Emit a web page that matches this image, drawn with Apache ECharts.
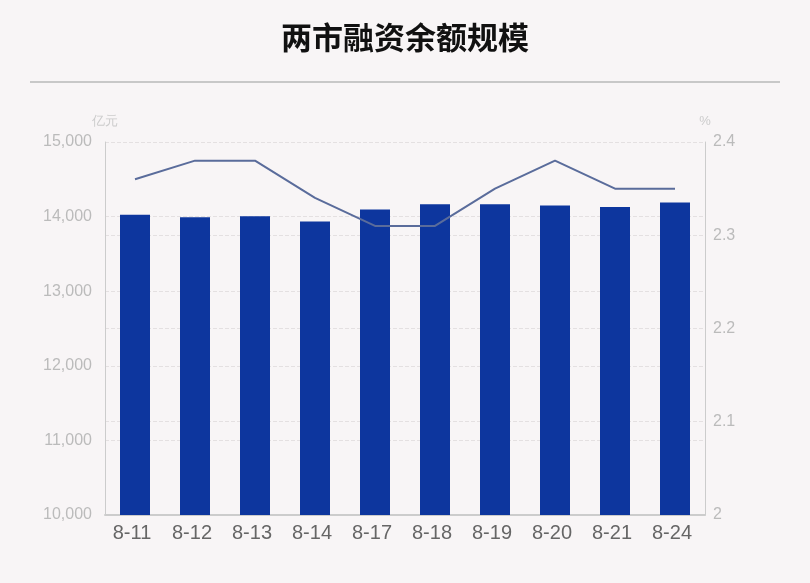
<!DOCTYPE html>
<html><head><meta charset="utf-8">
<script src="https://cdn.jsdelivr.net/npm/echarts@6/dist/echarts.min.js"></script>
<style>html,body{margin:0;padding:0;background:#f8f5f6;}#c{width:810px;height:583px;}</style>
</head><body><div id="c"></div>
<script>
const categories = ['8-11','8-12','8-13','8-14','8-17','8-18','8-19','8-20','8-21','8-24'];
const balance = [14025, 13990, 14005, 13935, 14095, 14165, 14165, 14150, 14130, 14190];
const ratio = [2.36, 2.38, 2.38, 2.34, 2.31, 2.31, 2.35, 2.38, 2.35, 2.35];
const titleText = '两市融资余额规模';

const chart = echarts.init(document.getElementById('c'));
chart.setOption({
  backgroundColor: '#f8f5f6',
  animation: false,
  title: { text: titleText, left: 'center', top: 17,
    textStyle: { fontSize: 31, fontWeight: 'bold', color: '#111', fontFamily: 'Noto Sans CJK SC' } },
  graphic: [{ type: 'line', shape: { x1: 30, y1: 82, x2: 780, y2: 82 },
    style: { stroke: '#c8c8c8', lineWidth: 2 } }],
  grid: { left: 105, right: 105, top: 142, bottom: 68 },
  xAxis: {
    type: 'category', data: categories,
    axisLine: { lineStyle: { color: '#cccccc', width: 2 } },
    axisTick: { show: false },
    axisLabel: { color: '#666', fontSize: 20, margin: 8, padding: [0, 6, 0, 0], fontFamily: 'Liberation Sans' }
  },
  yAxis: [{
    type: 'value', min: 10000, max: 15000, interval: 1000, name: '亿元',
    nameTextStyle: { color: '#cccccc', fontSize: 13, align: 'center' },
    nameGap: 14,
    axisLine: { show: true, lineStyle: { color: '#cccccc' } },
    axisTick: { show: false },
    axisLabel: { color: '#bbbbbb', fontSize: 16, margin: 13, fontFamily: 'Liberation Sans',
      formatter: v => v.toLocaleString('en-US') },
    splitLine: { lineStyle: { color: '#e4e0e1', type: 'dashed' } }
  }, {
    type: 'value', min: 2.0, max: 2.4, interval: 0.1, name: '%',
    nameTextStyle: { color: '#cccccc', fontSize: 13, align: 'center' },
    nameGap: 14,
    axisLine: { show: true, lineStyle: { color: '#cccccc' } },
    axisTick: { show: false },
    axisLabel: { color: '#bbbbbb', fontSize: 16, fontFamily: 'Liberation Sans',
      formatter: v => String(+v.toFixed(1)) },
    splitLine: { lineStyle: { color: '#e4e0e1', type: 'dashed' } }
  }],
  series: [{
    type: 'bar', data: balance, barWidth: 30, yAxisIndex: 0,
    itemStyle: { color: '#0d369e' }
  }, {
    type: 'line', data: ratio, yAxisIndex: 1, symbol: 'none',
    lineStyle: { color: '#5a6c9b', width: 2 }
  }]
});
</script></body></html>
